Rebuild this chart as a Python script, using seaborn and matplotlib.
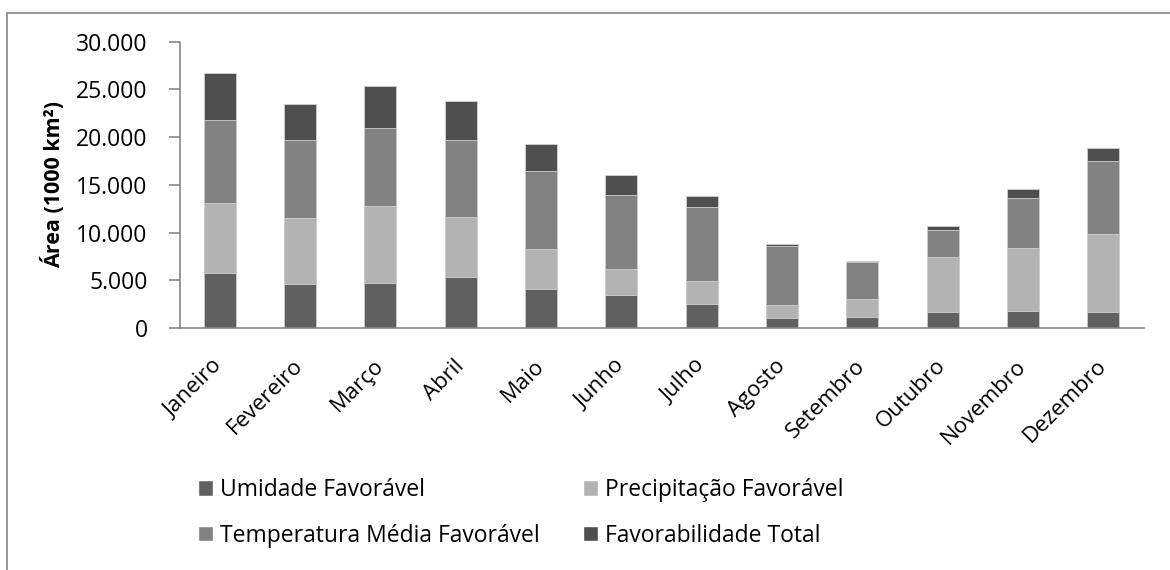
import matplotlib
matplotlib.use("Agg")
import matplotlib.pyplot as plt
import seaborn as sns
import numpy as np
import pandas as pd
from matplotlib.ticker import FuncFormatter, FixedLocator
from matplotlib.lines import Line2D
from matplotlib.patches import Patch

months = ["Janeiro", "Fevereiro", "Março", "Abril", "Maio", "Junho",
          "Julho", "Agosto", "Setembro", "Outubro", "Novembro", "Dezembro"]
umidade = [5800, 4650, 4700, 5300, 4050, 3430, 2520, 1080, 1150, 1680, 1750, 1680]
precipitacao = [7300, 6850, 8050, 6300, 4200, 2730, 2380, 1370, 1850, 5800, 6610, 8180]
temperatura = [8700, 8200, 8200, 8050, 8200, 7760, 7760, 6120, 3950, 2760, 5210, 7620]
favorabilidade = [4900, 3800, 4350, 4100, 2800, 2100, 1120, 280, 50, 490, 1010, 1400]

series_names = ["Umidade Favorável", "Precipitação Favorável",
                "Temperatura Média Favorável", "Favorabilidade Total"]
colors = ["#606060", "#b3b3b3", "#828282", "#4f4f4f"]

sns.set_theme(style="white")
plt.rcParams['font.family'] = ['Open Sans', 'DejaVu Sans']
plt.rcParams['text.color'] = 'black'
plt.rcParams['axes.labelcolor'] = 'black'
plt.rcParams['xtick.color'] = 'black'
plt.rcParams['ytick.color'] = 'black'

fig = plt.figure(figsize=(11.7, 5.7), dpi=100)
W, H = 1170, 570
ax = fig.add_axes([179.5 / W, 1 - 328 / H, (1143.5 - 179.5) / W, (328 - 41.6) / H])

df = pd.DataFrame({"mes": months, "u": umidade, "p": precipitacao,
                   "t": temperatura, "f": favorabilidade})
cum = df[["u", "p", "t", "f"]].cumsum(axis=1)
layers = ["f", "t", "p", "u"]
for key, col in zip(layers, [colors[3], colors[2], colors[1], colors[0]]):
    sns.barplot(x=df["mes"], y=cum[key], color=col, width=0.4, ax=ax,
                edgecolor="#d0d0d0", linewidth=0.6, saturation=1, order=months)

ax.set_ylim(0, 30000)
ax.set_xlim(-0.5, 11.5)
ax.yaxis.set_major_locator(FixedLocator(np.arange(0, 30001, 5000)))
ax.yaxis.set_major_formatter(FuncFormatter(lambda v, p: f"{int(v):,}".replace(",", ".")))
ax.set_xlabel("")
ax.set_ylabel("Área (1000 km²)", fontsize=15.5, fontweight="bold", labelpad=8)

gray = "#868686"
for s in ["top", "right"]:
    ax.spines[s].set_visible(False)
for s in ["left", "bottom"]:
    ax.spines[s].set_color(gray)
    ax.spines[s].set_linewidth(1.2)

ax.set_xticks(range(12))
ax.set_xticklabels(months, rotation=45, ha="right", va="center",
                   rotation_mode="anchor", fontsize=16)
ax.tick_params(axis="x", which="major", length=0, pad=25)
ax.set_xticks(np.arange(-0.5, 12, 1), minor=True)
ax.tick_params(axis="x", which="minor", length=8, width=1.2, color=gray, direction="out")
ax.tick_params(axis="y", length=8, width=1.2, color=gray, direction="out", labelsize=16.5, pad=15)
ax.tick_params(axis="both", bottom=True, left=True)
ax.tick_params(axis="x", which="major", bottom=False)

handles = [Patch(facecolor=colors[0]), Patch(facecolor=colors[2]),
           Patch(facecolor=colors[1]), Patch(facecolor=colors[3])]
labels = [series_names[0], series_names[2], series_names[1], series_names[3]]
fig.legend(handles, labels, ncol=2, loc="upper left",
           bbox_to_anchor=(198 / W, 1 - 478 / H), frameon=False, fontsize=16.5,
           handlelength=0.65, handleheight=0.65, handletextpad=0.3,
           columnspacing=1.9, labelspacing=0.95, borderpad=0, borderaxespad=0)

fig.add_artist(Line2D([7 / W, 7 / W], [0, 1 - 13 / H], color=gray, lw=1.2, transform=fig.transFigure))
fig.add_artist(Line2D([7 / W, 1], [1 - 13 / H, 1 - 13 / H], color=gray, lw=1.2, transform=fig.transFigure))

fig.savefig("out.png", dpi=100)
